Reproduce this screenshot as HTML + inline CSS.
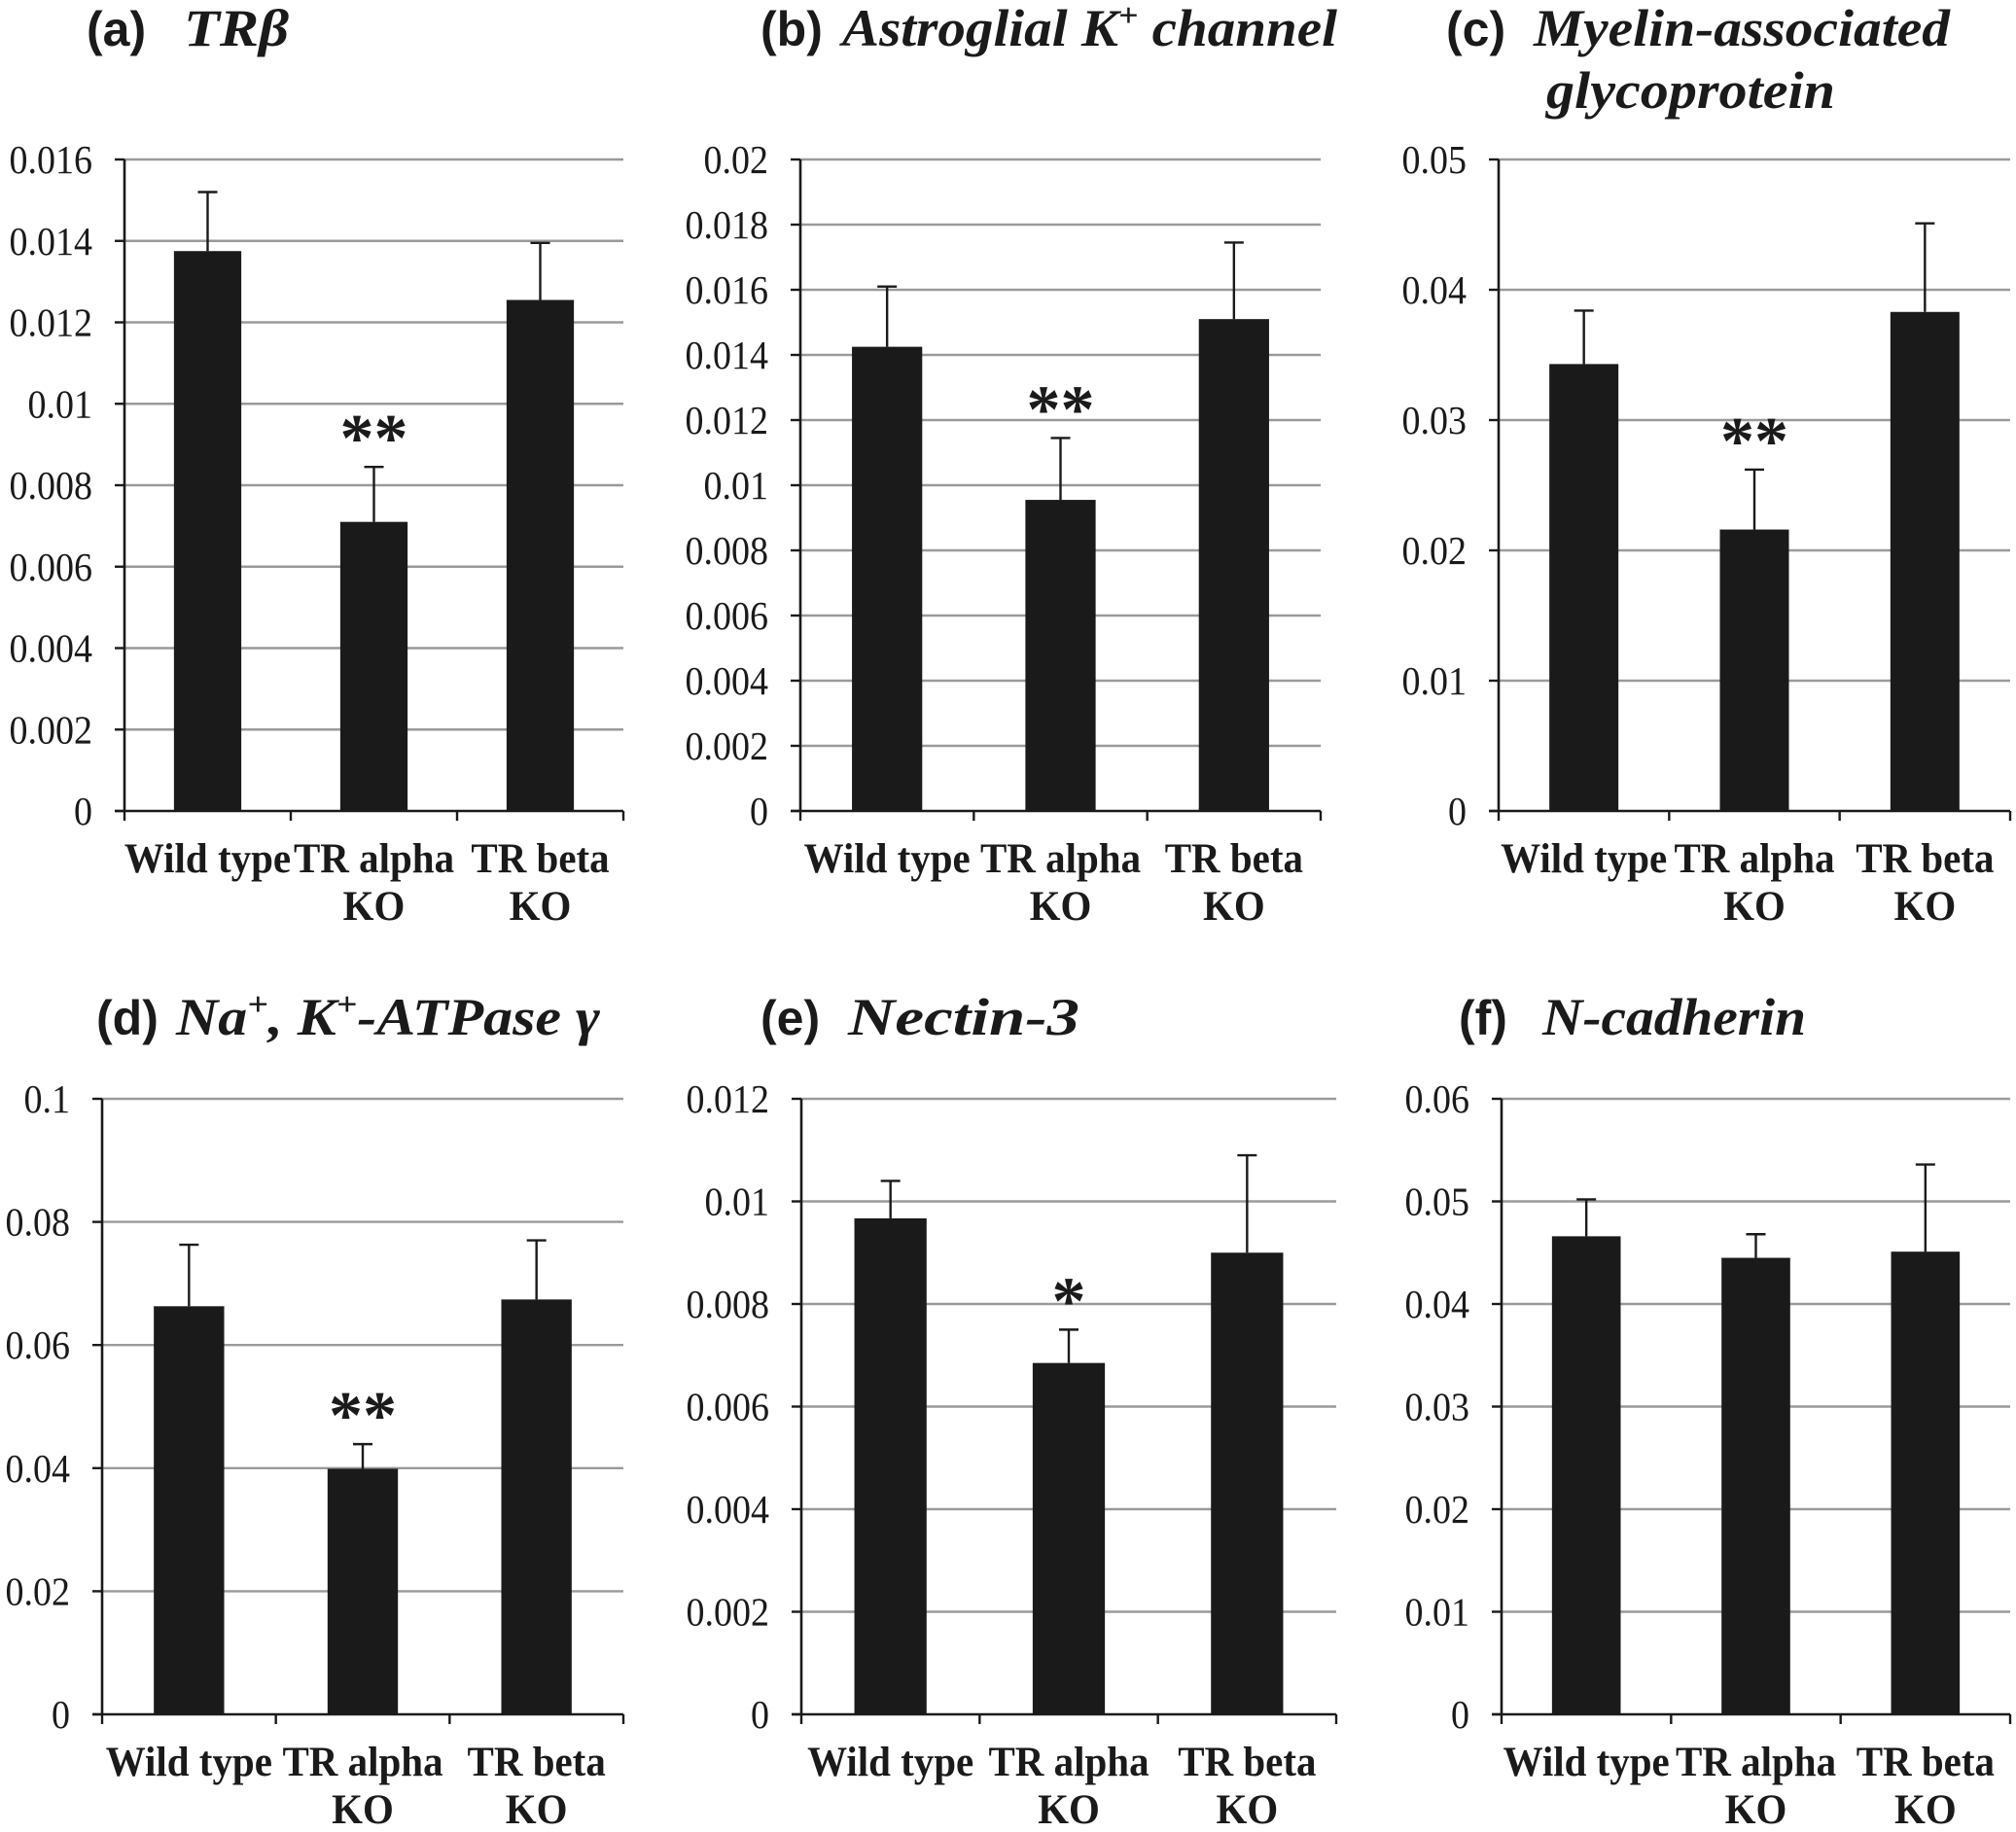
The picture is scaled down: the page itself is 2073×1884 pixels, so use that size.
<!DOCTYPE html>
<html><head><meta charset="utf-8"><style>
html,body{margin:0;padding:0;background:#fff;}
svg{display:block}
.tk{font-family:"Liberation Serif",serif;font-size:38px;fill:#1a1a1a}
.cat{font-family:"Liberation Serif",serif;font-weight:bold;font-size:41px;fill:#1a1a1a}
.ttl{font-size:50px;fill:#1a1a1a}
.lab{font-family:"Liberation Sans",sans-serif;font-weight:bold}
.gn{font-family:"Liberation Serif",serif;font-weight:bold;font-style:italic;font-size:54px}
.sig{font-family:"Liberation Serif",serif;font-weight:bold;font-size:70px;fill:#1a1a1a}
</style></head><body>
<svg id="fig" width="2073" height="1884" viewBox="0 0 2073 1884">
<text class="ttl lab" x="89" y="47">(a)</text>
<text class="ttl gn" x="189" y="47" textLength="108" lengthAdjust="spacingAndGlyphs">TRβ</text>
<text class="ttl lab" x="782" y="47">(b)</text>
<text class="ttl gn" x="866" y="47" textLength="509" lengthAdjust="spacingAndGlyphs">Astroglial K<tspan font-size="34" dy="-20">+</tspan><tspan dy="20"> channel</tspan></text>
<text class="ttl lab" x="1487" y="47">(c)</text>
<text class="ttl gn" x="1577" y="47" textLength="428" lengthAdjust="spacingAndGlyphs">Myelin-associated</text>
<text class="ttl gn" x="1590" y="111" textLength="297" lengthAdjust="spacingAndGlyphs">glycoprotein</text>
<text class="ttl lab" x="99" y="1064">(d)</text>
<text class="ttl gn" x="181" y="1064" textLength="436" lengthAdjust="spacingAndGlyphs">Na<tspan font-size="34" dy="-20">+</tspan><tspan dy="20">, K</tspan><tspan font-size="34" dy="-20">+</tspan><tspan dy="20">-ATPase γ</tspan></text>
<text class="ttl lab" x="782" y="1064">(e)</text>
<text class="ttl gn" x="872" y="1064" textLength="238" lengthAdjust="spacingAndGlyphs">Nectin-3</text>
<text class="ttl lab" x="1500" y="1064">(f)</text>
<text class="ttl gn" x="1586" y="1064" textLength="271" lengthAdjust="spacingAndGlyphs">N-cadherin</text>
</svg>
<script>
const categories = ["Wild type|", "TR alpha|KO", "TR beta|KO"];
const valuesA = [0.01375, 0.0071, 0.01255];
const errorsA = [0.00145, 0.00135, 0.0014];
const ticksA = ["0","0.002","0.004","0.006","0.008","0.01","0.012","0.014","0.016"];
const valuesB = [0.01425, 0.00955, 0.0151];
const errorsB = [0.00185, 0.0019, 0.00235];
const ticksB = ["0","0.002","0.004","0.006","0.008","0.01","0.012","0.014","0.016","0.018","0.02"];
const valuesC = [0.0343, 0.0216, 0.0383];
const errorsC = [0.0041, 0.0046, 0.0068];
const ticksC = ["0","0.01","0.02","0.03","0.04","0.05"];
const valuesD = [0.0663, 0.0399, 0.0674];
const errorsD = [0.010, 0.004, 0.0096];
const ticksD = ["0","0.02","0.04","0.06","0.08","0.1"];
const valuesE = [0.00967, 0.00685, 0.0090];
const errorsE = [0.00073, 0.00065, 0.0019];
const ticksE = ["0","0.002","0.004","0.006","0.008","0.01","0.012"];
const valuesF = [0.0466, 0.0445, 0.0451];
const errorsF = [0.0036, 0.0023, 0.0085];
const ticksF = ["0","0.01","0.02","0.03","0.04","0.05","0.06"];
const sigMarks = ["", "**", ""];
const sigMarksE = ["", "*", ""];
const noSig = ["", "", ""];

const NS = "http://www.w3.org/2000/svg";
const svg = document.getElementById("fig");
function mk(tag, attrs, parent){const e=document.createElementNS(NS,tag);for(const k in attrs)e.setAttribute(k,attrs[k]);(parent||svg).appendChild(e);return e;}

function panel(id, x0, x1, yTop, yBot, values, errors, ticks, sigs){
  const g = mk("g", {});
  
  
  const maxV = parseFloat(ticks[ticks.length-1]);
  const yS = v => yBot - (v/maxV)*(yBot-yTop);
  const catW = (x1-x0)/categories.length;
  const xC = i => x0 + catW*(i+0.5);
  ticks.forEach((t)=>{
    const y = yS(parseFloat(t));
    if (parseFloat(t)>0){
      const gl = mk("line",{x1:x0,x2:x1,y1:y,y2:y,stroke:"#9a9a9a","stroke-width":2.4},g);
      
      
    }
    mk("line",{x1:x0-10,x2:x0,y1:y,y2:y,stroke:"#1a1a1a","stroke-width":2.4},g);
    const tl = mk("text",{"text-anchor":"end",class:"tk",transform:"translate("+(x0-33)+","+(y+14)+") scale(1,1.08)"},g);
    tl.textContent = t;
    
    
  });
  values.forEach((v,i)=>{
    const bw = catW*0.405;
    const top = yS(v);
    const eTop = yS(v+errors[i]);
    const el = mk("line",{x1:xC(i),x2:xC(i),y1:top,y2:eTop,stroke:"#1a1a1a","stroke-width":2.4},g);
    
    
    mk("line",{x1:xC(i)-10,x2:xC(i)+10,y1:eTop,y2:eTop,stroke:"#1a1a1a","stroke-width":2.4},g);
    const r = mk("rect",{x:xC(i)-bw/2,y:top,width:bw,height:yBot-top,fill:"#1a1a1a"},g);
    
    
    if (sigs[i]){
      const s = mk("text",{x:xC(i),y:eTop-6,"text-anchor":"middle",class:"sig"},g);
      s.textContent = sigs[i];
      
      
    }
    const parts = categories[i].split("|");
    parts.forEach((p,k)=>{
      if(!p) return;
      const c = mk("text",{"text-anchor":"middle",class:"cat",transform:"translate("+xC(i)+","+(yBot+63+k*49)+") scale(1,1.05)"},g);
      c.textContent = p;
      
      
    });
  });
  const ax = mk("line",{x1:x0,x2:x0,y1:yTop,y2:yBot,stroke:"#1a1a1a","stroke-width":2.6},g);
  
  
  const bx = mk("line",{x1:x0-10,x2:x1,y1:yBot,y2:yBot,stroke:"#1a1a1a","stroke-width":2.6},g);
  
  
  for(let i=0;i<=categories.length;i++){
    mk("line",{x1:x0+catW*i,x2:x0+catW*i,y1:yBot,y2:yBot+10,stroke:"#1a1a1a","stroke-width":2.4},g);
  }
}
panel("a",128,641,164,834,valuesA,errorsA,ticksA,sigMarks);
panel("b",823,1358,164,834,valuesB,errorsB,ticksB,sigMarks);
panel("c",1541,2067,164,834,valuesC,errorsC,ticksC,sigMarks);
panel("d",105,641,1130,1763,valuesD,errorsD,ticksD,sigMarks);
panel("e",824,1374,1130,1763,valuesE,errorsE,ticksE,sigMarksE);
panel("f",1544,2067,1130,1763,valuesF,errorsF,ticksF,noSig);
</script>
</body></html>
